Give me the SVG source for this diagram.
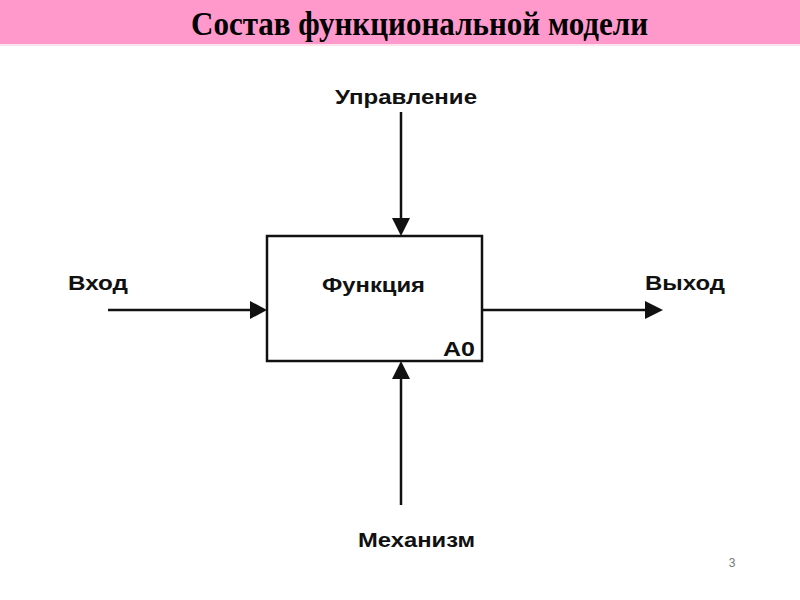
<svg xmlns="http://www.w3.org/2000/svg" width="800" height="600" viewBox="0 0 800 600">
<style>
.lbl{font-family:"Liberation Sans",Arial,sans-serif;font-weight:bold;font-size:21px;fill:#111}
.ln{stroke:#111;stroke-width:2.5;fill:none}
</style>
<rect width="800" height="600" fill="#fff"/>
<rect x="0" y="0" width="800" height="44" fill="#FF99CC"/>
<rect x="0" y="44" width="800" height="2" fill="#FBE3EE"/>
<text x="191" y="35" textLength="457" lengthAdjust="spacingAndGlyphs" font-family="'Liberation Serif','Times New Roman',serif" font-weight="bold" font-size="33" fill="#000">Состав функциональной модели</text>
<g id="connectors">
<line class="ln" x1="401" y1="112" x2="401" y2="218"/>
<path d="M392,218 L410,218 L401,236 z" fill="#111"/>
<line class="ln" x1="108" y1="310" x2="250" y2="310"/>
<path d="M250,301 L250,319 L267,310 z" fill="#111"/>
<line class="ln" x1="482" y1="310" x2="645" y2="310"/>
<path d="M645,301 L645,319 L663,310 z" fill="#111"/>
<line class="ln" x1="401" y1="505" x2="401" y2="379"/>
<path d="M392,379 L410,379 L401,361 z" fill="#111"/>
</g>
<g id="function">
<rect x="267" y="236" width="215" height="125" fill="#fff" stroke="#111" stroke-width="2.5"/>
<text class="lbl" x="322" y="292" textLength="103" lengthAdjust="spacingAndGlyphs">Функция</text>
<text class="lbl" x="443" y="356" textLength="32" lengthAdjust="spacingAndGlyphs">A0</text>
</g>
<g id="control"><text class="lbl" x="335" y="104" textLength="142" lengthAdjust="spacingAndGlyphs">Управление</text></g>
<g id="input"><text class="lbl" x="68" y="290" textLength="60" lengthAdjust="spacingAndGlyphs">Вход</text></g>
<g id="output"><text class="lbl" x="645" y="290" textLength="80" lengthAdjust="spacingAndGlyphs">Выход</text></g>
<g id="mechanism"><text class="lbl" x="358" y="547" textLength="117" lengthAdjust="spacingAndGlyphs">Механизм</text></g>
<text x="732" y="567" text-anchor="middle" font-family="'Liberation Sans',Arial,sans-serif" font-size="12" fill="#777">3</text>
</svg>
